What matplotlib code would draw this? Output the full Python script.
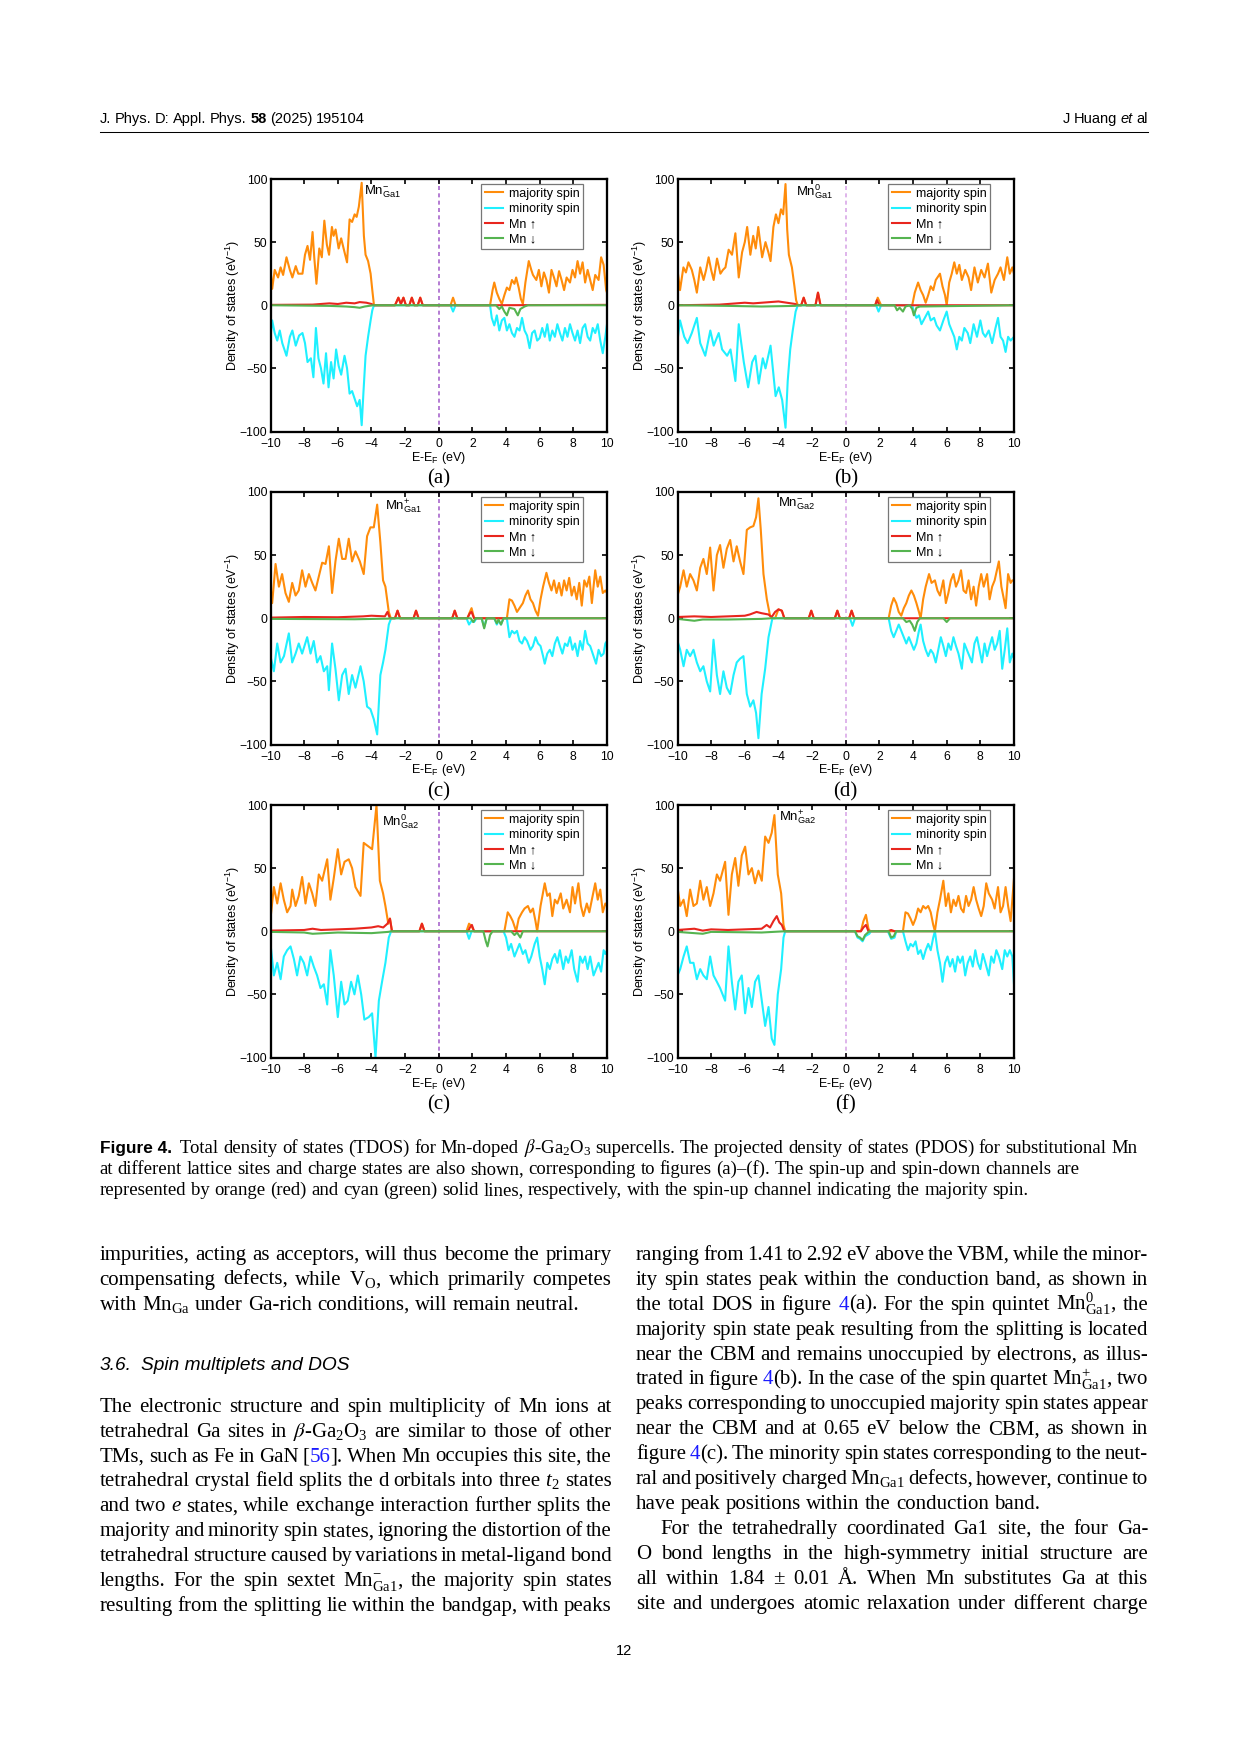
import matplotlib
matplotlib.use('Agg')
import matplotlib.pyplot as plt

plt.rcParams['font.family'] = ['Liberation Sans', 'DejaVu Sans']
plt.rcParams['mathtext.fontset'] = 'stix'
plt.rcParams['axes.unicode_minus'] = True

W, H, DPI = 1241, 1754, 150

# ---- DOS data (energy in eV, DOS in 1/eV) ----
a_majority = [(-10.0, 28), (-9.9, 13), (-9.75, 28), (-9.55, 22), (-9.4, 30), (-9.25, 24), (-9.05, 38), (-8.85, 28),
              (-8.7, 22), (-8.5, 31), (-8.35, 25), (-8.1, 25), (-7.95, 40), (-7.8, 47), (-7.65, 36), (-7.5, 58),
              (-7.4, 38), (-7.27, 17), (-7.1, 45), (-6.95, 38), (-6.8, 67), (-6.65, 48), (-6.52, 40), (-6.35, 62),
              (-6.25, 55), (-6.13, 60), (-5.95, 45), (-5.8, 53), (-5.6, 42), (-5.45, 34), (-5.3, 68), (-5.15, 66),
              (-5.0, 72), (-4.88, 70), (-4.75, 78), (-4.58, 97), (-4.45, 55), (-4.35, 40), (-4.2, 35), (-4.05, 25),
              (-3.95, 12), (-3.85, 0), (-2.6, 0), (-2.4, 6), (-2.25, 1), (-2.1, 6), (-1.95, 0), (-1.75, 0),
              (-1.6, 6), (-1.45, 0), (-1.25, 0), (-1.1, 6), (-0.95, 0), (0.7, 0), (0.85, 6), (1.0, 0),
              (3.05, 0), (3.2, 12), (3.3, 18), (3.45, 10), (3.6, 5), (3.75, 1), (3.9, 8), (4.05, 14), (4.2, 12),
              (4.35, 20), (4.5, 17), (4.6, 22), (4.75, 14), (4.88, 5), (5.0, 1), (5.15, 18), (5.35, 35), (5.5, 28),
              (5.6, 24), (5.8, 20), (5.95, 28), (6.1, 15), (6.25, 26), (6.4, 20), (6.55, 10), (6.7, 28), (6.85, 22),
              (7.0, 15), (7.15, 27), (7.3, 20), (7.45, 12), (7.6, 22), (7.8, 18), (7.95, 28), (8.1, 22), (8.25, 35),
              (8.4, 25), (8.55, 34), (8.7, 18), (8.85, 28), (9.0, 20), (9.15, 12), (9.3, 24), (9.5, 20), (9.65, 38),
              (9.8, 32), (9.95, 12), (10.0, 10)]
a_minority = [(-10.0, -25), (-9.9, -12), (-9.75, -22), (-9.6, -28), (-9.45, -20), (-9.3, -30), (-9.05, -40),
              (-8.85, -25), (-8.7, -20), (-8.5, -32), (-8.3, -24), (-8.1, -22), (-7.95, -30), (-7.8, -45),
              (-7.6, -42), (-7.45, -57), (-7.3, -18), (-7.15, -42), (-7.0, -50), (-6.85, -62), (-6.7, -38),
              (-6.55, -65), (-6.4, -45), (-6.25, -58), (-6.1, -35), (-5.95, -48), (-5.8, -55), (-5.6, -40),
              (-5.45, -50), (-5.3, -70), (-5.15, -68), (-5.0, -74), (-4.85, -80), (-4.7, -75), (-4.58, -95),
              (-4.48, -70), (-4.35, -40), (-4.2, -25), (-4.05, -12), (-3.95, -4), (-3.85, 0), (0.7, 0), (0.85, -5),
              (1.0, 0), (3.05, 0), (3.15, -10), (3.3, -16), (3.45, -8), (3.6, -20), (3.75, -12), (3.9, -10),
              (4.05, -20), (4.2, -15), (4.35, -22), (4.5, -25), (4.65, -18), (4.8, -20), (4.95, -10), (5.1, -20),
              (5.25, -24), (5.4, -34), (5.55, -22), (5.7, -20), (5.85, -28), (6.0, -26), (6.15, -18), (6.3, -25),
              (6.45, -15), (6.6, -28), (6.75, -20), (6.9, -25), (7.05, -15), (7.2, -22), (7.35, -28), (7.5, -18),
              (7.65, -25), (7.8, -15), (7.95, -22), (8.1, -28), (8.25, -20), (8.4, -30), (8.55, -18), (8.7, -15),
              (8.85, -25), (9.0, -28), (9.15, -18), (9.3, -22), (9.45, -15), (9.6, -28), (9.75, -38), (9.9, -25),
              (10.0, -15)]
a_mn_up = [(-10.0, 0.3), (-7.5, 0.5), (-7.0, 1), (-6.5, 1.5), (-6.0, 1), (-5.5, 2), (-5.0, 1.5), (-4.7, 2.5),
           (-4.3, 2), (-4.0, 1), (-3.85, 0), (-2.6, 0), (-2.4, 6), (-2.25, 1), (-2.1, 6), (-1.95, 0), (-1.75, 0),
           (-1.6, 6), (-1.45, 0), (-1.25, 0), (-1.1, 6), (-0.95, 0), (3.0, 0), (10.0, 0.3)]
a_mn_dn = [(-10.0, 0), (-6.5, -0.5), (-5.5, -1), (-5.0, -1.5), (-4.7, -2), (-4.4, -1), (-3.9, 0), (3.4, 0),
           (3.6, -3), (3.75, -1), (3.9, -5), (4.05, -8), (4.2, -2), (4.5, -3), (4.7, -8), (4.85, -3), (5.1, -1),
           (5.3, 0), (10.0, 0)]

b_majority = [(-10.0, 28), (-9.85, 12), (-9.65, 30), (-9.5, 26), (-9.35, 34), (-9.15, 28), (-9.0, 20), (-8.85, 10),
              (-8.65, 30), (-8.45, 20), (-8.3, 28), (-8.15, 38), (-8.0, 28), (-7.85, 20), (-7.65, 37), (-7.45, 25),
              (-7.3, 28), (-7.15, 30), (-6.96, 44), (-6.76, 40), (-6.56, 57), (-6.36, 22), (-6.16, 42), (-6.0, 50),
              (-5.86, 62), (-5.67, 40), (-5.5, 55), (-5.35, 45), (-5.2, 62), (-4.97, 38), (-4.77, 50), (-4.6, 42),
              (-4.47, 35), (-4.3, 62), (-4.15, 72), (-4.0, 65), (-3.85, 76), (-3.72, 72), (-3.58, 96), (-3.48, 60),
              (-3.38, 40), (-3.2, 30), (-3.05, 15), (-2.95, 4), (-2.85, 0), (-2.65, 0), (-2.5, 6), (-2.35, 0),
              (-1.8, 0), (-1.65, 10), (-1.5, 0), (1.75, 0), (1.9, 6), (2.1, 0), (3.95, 0), (4.1, 10), (4.3, 18),
              (4.45, 12), (4.6, 8), (4.75, 2), (4.9, 8), (5.05, 15), (5.2, 12), (5.35, 20), (5.6, 25), (5.75, 15),
              (5.9, 8), (6.0, 0), (6.15, 18), (6.3, 25), (6.45, 34), (6.6, 25), (6.75, 32), (6.9, 20), (7.1, 28),
              (7.3, 22), (7.45, 12), (7.65, 30), (7.85, 18), (8.05, 28), (8.25, 22), (8.45, 33), (8.65, 10),
              (8.85, 20), (9.05, 25), (9.2, 30), (9.4, 20), (9.6, 38), (9.75, 25), (9.9, 30), (10.0, 25)]
b_minority = [(-10.0, -28), (-9.85, -12), (-9.6, -25), (-9.4, -30), (-9.15, -22), (-8.85, -10), (-8.65, -30),
              (-8.35, -40), (-8.05, -20), (-7.85, -32), (-7.55, -22), (-7.35, -35), (-7.05, -40), (-6.85, -35),
              (-6.56, -60), (-6.36, -15), (-6.06, -45), (-5.8, -65), (-5.56, -45), (-5.37, -40), (-5.17, -62),
              (-4.93, -42), (-4.77, -50), (-4.47, -32), (-4.17, -72), (-3.98, -65), (-3.78, -75), (-3.58, -97),
              (-3.45, -60), (-3.3, -35), (-3.15, -20), (-2.98, -5), (-2.85, 0), (1.8, 0), (1.95, -5), (2.1, 0),
              (3.95, 0), (4.05, -5), (4.2, -10), (4.35, -8), (4.5, -15), (4.7, -10), (4.9, -5), (5.05, -12),
              (5.25, -10), (5.4, -16), (5.6, -20), (5.8, -12), (6.0, -5), (6.15, -15), (6.3, -20), (6.45, -25),
              (6.6, -35), (6.75, -25), (6.9, -28), (7.05, -18), (7.25, -22), (7.4, -30), (7.6, -15), (7.8, -25),
              (8.0, -12), (8.15, -22), (8.3, -25), (8.5, -20), (8.7, -30), (8.9, -18), (9.05, -10), (9.2, -25),
              (9.35, -28), (9.5, -37), (9.65, -25), (9.8, -28), (10.0, -25)]
b_mn_up = [(-10.0, 0), (-7.5, 0.5), (-7.0, 1), (-6.5, 1.5), (-6.0, 2), (-5.5, 1.5), (-5.0, 2), (-4.5, 2.5),
           (-4.0, 3), (-3.5, 2), (-3.0, 1), (-2.85, 0), (-2.65, 0), (-2.5, 6), (-2.35, 0), (-1.8, 0), (-1.65, 10),
           (-1.5, 0), (1.75, 0), (1.85, 4), (2.0, 0), (10.0, 0)]
b_mn_dn = [(-10.0, 0), (-7.0, -0.5), (-5.0, -1), (-3.0, -0.5), (-2.85, 0), (2.9, 0), (3.05, -4), (3.2, -2),
           (3.4, -5), (3.55, -1), (3.8, 0), (3.95, -3), (4.05, -8), (4.2, -2), (4.4, -1), (10.0, 0)]

c_majority = [(-10.0, 25), (-9.9, 12), (-9.7, 43), (-9.5, 25), (-9.31, 35), (-9.11, 20), (-8.91, 13), (-8.71, 28),
              (-8.51, 18), (-8.32, 22), (-8.12, 38), (-7.92, 25), (-7.72, 35), (-7.52, 28), (-7.33, 22), (-7.13, 33),
              (-6.93, 44), (-6.73, 43), (-6.53, 57), (-6.34, 20), (-6.14, 45), (-5.94, 63), (-5.74, 47), (-5.54, 47),
              (-5.35, 63), (-5.15, 45), (-4.95, 53), (-4.69, 45), (-4.46, 35), (-4.26, 65), (-4.06, 72), (-3.86, 72),
              (-3.66, 90), (-3.47, 60), (-3.31, 30), (-3.17, 25), (-2.97, 5), (-2.85, 0), (-2.6, 0), (-2.45, 6),
              (-2.3, 0), (-1.5, 0), (-1.35, 6), (-1.2, 0), (0.8, 0), (0.95, 6), (1.1, 0), (1.7, 0), (1.85, 5),
              (1.95, 8), (2.1, 0), (4.05, 0), (4.2, 15), (4.35, 14), (4.5, 10), (4.65, 5), (4.8, 8), (5.0, 12),
              (5.15, 18), (5.3, 22), (5.45, 15), (5.6, 12), (5.75, 6), (5.9, 2), (6.05, 15), (6.2, 25), (6.4, 36),
              (6.55, 28), (6.7, 22), (6.85, 30), (7.0, 20), (7.15, 28), (7.3, 18), (7.45, 30), (7.6, 22), (7.75, 32),
              (7.9, 18), (8.05, 25), (8.2, 15), (8.35, 28), (8.5, 10), (8.65, 30), (8.8, 25), (8.95, 33), (9.1, 12),
              (9.3, 38), (9.45, 25), (9.6, 33), (9.75, 20), (9.9, 22), (10.0, 20)]
c_minority = [(-10.0, -30), (-9.8, -42), (-9.6, -20), (-9.4, -35), (-9.2, -30), (-8.91, -12), (-8.71, -35),
              (-8.51, -28), (-8.32, -20), (-8.12, -28), (-7.82, -15), (-7.62, -28), (-7.43, -18), (-7.23, -35),
              (-7.03, -30), (-6.83, -42), (-6.63, -38), (-6.53, -57), (-6.34, -20), (-6.14, -40), (-5.94, -65),
              (-5.74, -45), (-5.54, -40), (-5.35, -60), (-5.15, -45), (-4.95, -55), (-4.65, -38), (-4.46, -50),
              (-4.26, -70), (-4.06, -72), (-3.86, -80), (-3.66, -92), (-3.47, -45), (-3.31, -35), (-3.17, -25),
              (-2.97, -5), (-2.83, 0), (1.65, 0), (1.8, -5), (1.95, -2), (2.1, -3), (2.25, 0), (2.55, 0), (2.7, -7),
              (2.85, 0), (3.3, 0), (3.45, -5), (3.55, -2), (3.7, -5), (3.85, 0), (4.05, 0), (4.2, -15), (4.35, -10),
              (4.5, -12), (4.65, -10), (4.8, -18), (4.95, -20), (5.1, -15), (5.25, -18), (5.45, -25), (5.6, -22),
              (5.75, -15), (5.9, -20), (6.05, -22), (6.2, -30), (6.3, -36), (6.45, -28), (6.6, -25), (6.75, -30),
              (6.9, -20), (7.05, -15), (7.2, -22), (7.35, -28), (7.5, -20), (7.65, -22), (7.8, -15), (7.95, -25),
              (8.1, -20), (8.25, -30), (8.4, -18), (8.55, -25), (8.7, -10), (8.85, -20), (9.0, -22), (9.15, -28),
              (9.35, -36), (9.5, -25), (9.65, -30), (9.8, -28), (9.9, -20), (10.0, -18)]
c_mn_up = [(-10.0, 0.5), (-8.0, 1), (-6.0, 0.8), (-4.5, 1.5), (-4.0, 2), (-3.2, 1.5), (-3.05, 5), (-2.9, 0),
           (-2.6, 0), (-2.45, 6), (-2.3, 0), (-1.5, 0), (-1.35, 6), (-1.2, 0), (0.8, 0), (0.95, 6), (1.1, 0),
           (1.7, 0), (1.85, 4), (1.95, 5), (2.1, 0), (10.0, 0)]
c_mn_dn = [(-10.0, -0.5), (-5.0, -0.8), (-3.0, -0.3), (-2.85, 0), (1.9, 0), (2.05, -3), (2.2, 0), (2.55, 0),
           (2.7, -8), (2.85, 0), (3.3, 0), (3.45, -4), (3.55, -1), (3.7, -5), (3.85, 0), (10.0, 0)]

d_majority = [(-10.0, 18), (-9.84, 25), (-9.64, 38), (-9.45, 25), (-9.25, 35), (-9.05, 30), (-8.85, 22), (-8.65, 40),
              (-8.46, 47), (-8.26, 35), (-8.06, 56), (-7.86, 22), (-7.66, 50), (-7.47, 58), (-7.27, 40), (-7.07, 55),
              (-6.87, 62), (-6.67, 45), (-6.48, 57), (-6.28, 45), (-6.08, 35), (-5.88, 70), (-5.68, 72), (-5.49, 73),
              (-5.33, 80), (-5.19, 95), (-5.05, 70), (-4.89, 35), (-4.69, 15), (-4.5, 2), (-4.36, 0), (-4.2, 0),
              (-4.0, 7), (-3.8, 6), (-3.65, 0), (-2.2, 0), (-2.05, 6), (-1.9, 0), (-0.65, 0), (-0.5, 6), (-0.35, 0),
              (0.2, 0), (0.35, 6), (0.5, 0), (2.55, 0), (2.7, 10), (2.85, 16), (3.0, 12), (3.15, 5), (3.3, 2),
              (3.45, 8), (3.6, 12), (3.75, 18), (3.9, 22), (4.05, 18), (4.2, 12), (4.35, 5), (4.45, 0), (4.6, 15),
              (4.75, 25), (4.95, 35), (5.1, 28), (5.3, 30), (5.45, 22), (5.6, 18), (5.8, 30), (5.95, 12), (6.1, 20),
              (6.25, 30), (6.4, 35), (6.55, 25), (6.7, 30), (6.85, 38), (7.0, 22), (7.15, 20), (7.3, 30), (7.45, 15),
              (7.6, 25), (7.75, 10), (7.9, 25), (8.05, 35), (8.2, 25), (8.4, 35), (8.55, 15), (8.7, 25), (8.85, 30),
              (9.1, 45), (9.25, 25), (9.4, 15), (9.5, 8), (9.65, 35), (9.8, 28), (9.9, 30), (10.0, 30)]
d_minority = [(-10.0, -18), (-9.84, -25), (-9.64, -38), (-9.45, -25), (-9.25, -30), (-9.05, -25), (-8.85, -35),
              (-8.65, -42), (-8.46, -38), (-8.26, -50), (-8.06, -58), (-7.86, -17), (-7.66, -45), (-7.47, -60),
              (-7.27, -42), (-7.07, -55), (-6.87, -60), (-6.67, -45), (-6.48, -35), (-6.28, -32), (-6.08, -30),
              (-5.88, -60), (-5.68, -70), (-5.49, -65), (-5.33, -75), (-5.19, -95), (-5.0, -60), (-4.79, -40),
              (-4.59, -15), (-4.36, 0), (0.25, 0), (0.4, -6), (0.55, 0), (2.55, 0), (2.7, -10), (2.85, -15),
              (3.0, -10), (3.15, -5), (3.3, -10), (3.45, -15), (3.6, -20), (3.75, -15), (3.9, -20), (4.05, -25),
              (4.2, -20), (4.35, -10), (4.45, -5), (4.6, -18), (4.75, -25), (4.9, -30), (5.05, -25), (5.2, -28),
              (5.35, -35), (5.5, -25), (5.65, -15), (5.8, -22), (5.95, -30), (6.1, -20), (6.25, -25), (6.4, -15),
              (6.55, -22), (6.7, -28), (6.9, -40), (7.05, -20), (7.2, -25), (7.35, -30), (7.5, -35), (7.65, -20),
              (7.8, -15), (7.95, -25), (8.1, -35), (8.25, -20), (8.4, -30), (8.55, -22), (8.7, -15), (8.85, -25),
              (9.0, -20), (9.15, -10), (9.3, -40), (9.45, -25), (9.6, -8), (9.75, -35), (9.9, -28), (10.0, -32)]
d_mn_up = [(-10.0, 1), (-9.0, 1.5), (-8.0, 1), (-7.0, 1.5), (-6.0, 2), (-5.7, 3), (-5.3, 5), (-5.0, 4), (-4.6, 3),
           (-4.4, 1), (-4.2, 5), (-4.0, 7), (-3.8, 6), (-3.65, 0), (-2.2, 0), (-2.05, 6), (-1.9, 0), (-0.65, 0),
           (-0.5, 6), (-0.35, 0), (0.2, 0), (0.35, 6), (0.5, 0), (10.0, 0)]
d_mn_dn = [(-10.0, -0.5), (-9.0, -2), (-8.5, -1), (-7.0, -1), (-5.0, -0.5), (-4.4, 0), (3.4, 0), (3.6, -3),
           (3.8, -2), (3.95, -5), (4.1, -10), (4.25, -3), (4.4, 0), (5.8, 0), (6.0, -3), (6.2, 0), (10.0, 0)]

e_majority = [(-10.0, 10), (-9.8, 35), (-9.6, 22), (-9.4, 38), (-9.21, 25), (-9.01, 15), (-8.81, 20), (-8.71, 33),
              (-8.51, 20), (-8.32, 28), (-8.12, 43), (-7.92, 22), (-7.72, 38), (-7.52, 30), (-7.33, 20), (-7.13, 45),
              (-6.93, 40), (-6.63, 57), (-6.44, 25), (-6.24, 42), (-6.0, 65), (-5.8, 45), (-5.6, 55), (-5.35, 57),
              (-5.15, 50), (-4.95, 35), (-4.65, 28), (-4.46, 70), (-4.26, 68), (-3.96, 65), (-3.7, 100), (-3.5, 40),
              (-3.31, 30), (-3.17, 20), (-3.0, 6), (-2.9, 10), (-2.78, 0), (-1.15, 0), (-1.0, 6), (-0.85, 0),
              (1.65, 0), (1.8, 6), (1.95, 4), (2.1, 0), (3.9, 0), (4.1, 15), (4.25, 12), (4.4, 8), (4.6, 0),
              (4.75, 10), (4.95, 15), (5.1, 18), (5.3, 20), (5.45, 15), (5.6, 18), (5.75, 8), (5.85, 0), (6.05, 20),
              (6.3, 38), (6.45, 28), (6.6, 30), (6.75, 12), (6.9, 25), (7.05, 22), (7.25, 30), (7.4, 18), (7.6, 25),
              (7.8, 15), (7.95, 35), (8.1, 22), (8.3, 38), (8.45, 20), (8.6, 12), (8.8, 22), (8.95, 15), (9.1, 25),
              (9.3, 38), (9.45, 25), (9.6, 33), (9.75, 15), (9.9, 22), (10.0, 20)]
e_minority = [(-10.0, -10), (-9.8, -35), (-9.6, -25), (-9.4, -38), (-9.21, -20), (-9.01, -15), (-8.81, -12),
              (-8.61, -22), (-8.42, -35), (-8.22, -20), (-8.02, -25), (-7.82, -35), (-7.62, -20), (-7.43, -28),
              (-7.23, -35), (-7.03, -45), (-6.83, -42), (-6.63, -58), (-6.44, -15), (-6.24, -35), (-6.0, -68),
              (-5.8, -40), (-5.6, -58), (-5.41, -55), (-5.21, -40), (-5.01, -50), (-4.81, -35), (-4.61, -50),
              (-4.42, -70), (-4.16, -68), (-3.96, -65), (-3.76, -100), (-3.56, -55), (-3.37, -40), (-3.17, -25),
              (-2.97, -5), (-2.83, 0), (1.65, 0), (1.8, -6), (1.95, 0), (3.85, 0), (4.0, -5), (4.15, -15),
              (4.3, -10), (4.5, -20), (4.65, -15), (4.8, -10), (5.0, -18), (5.15, -15), (5.35, -25), (5.5, -20),
              (5.7, -10), (5.85, -5), (6.0, -20), (6.15, -30), (6.3, -42), (6.45, -25), (6.6, -30), (6.75, -22),
              (6.9, -18), (7.05, -25), (7.2, -15), (7.4, -30), (7.55, -20), (7.7, -25), (7.9, -15), (8.05, -30),
              (8.25, -40), (8.4, -20), (8.55, -25), (8.7, -20), (8.85, -30), (9.0, -20), (9.2, -35), (9.35, -30),
              (9.5, -25), (9.65, -32), (9.8, -15), (9.9, -18), (10.0, -15)]
e_mn_up = [(-10.0, 0.5), (-8.0, 1), (-7.5, 2), (-7.0, 1), (-6.0, 1.5), (-5.0, 2), (-4.5, 2.5), (-4.0, 3),
           (-3.6, 4), (-3.3, 3), (-3.05, 6), (-2.9, 10), (-2.78, 0), (-1.15, 0), (-1.0, 6), (-0.85, 0), (1.75, 0),
           (1.85, 3), (1.97, 5), (2.1, 0), (10.0, 0)]
e_mn_dn = [(-10.0, -0.5), (-8.0, -1), (-7.5, -2), (-6.0, -1), (-4.0, -1.5), (-3.0, -0.5), (-2.8, 0), (2.65, 0),
           (2.8, -8), (2.9, -12), (3.05, -3), (3.2, 0), (4.3, 0), (4.5, -3), (4.65, -1), (4.85, -5), (5.0, 0),
           (10.0, 0)]

f_majority = [(-10.0, 35), (-9.84, 20), (-9.64, 25), (-9.45, 12), (-9.25, 33), (-9.05, 20), (-8.85, 22), (-8.65, 40),
              (-8.46, 25), (-8.26, 35), (-8.06, 20), (-7.86, 30), (-7.66, 45), (-7.47, 40), (-7.17, 55), (-6.97, 13),
              (-6.77, 45), (-6.57, 58), (-6.38, 36), (-6.18, 60), (-5.98, 67), (-5.78, 45), (-5.58, 50), (-5.39, 38),
              (-5.19, 48), (-4.99, 40), (-4.79, 75), (-4.59, 70), (-4.4, 78), (-4.24, 92), (-4.04, 45), (-3.84, 30),
              (-3.7, 5), (-3.6, 0), (0.9, 0), (1.05, 8), (1.2, 13), (1.35, 2), (1.45, 0), (3.4, 0), (3.55, 15),
              (3.7, 14), (3.85, 10), (4.0, 5), (4.15, 10), (4.3, 18), (4.45, 15), (4.6, 20), (4.75, 18), (4.9, 20),
              (5.05, 15), (5.2, 5), (5.3, 0), (5.45, 15), (5.6, 25), (5.8, 40), (5.95, 20), (6.1, 30), (6.25, 15),
              (6.4, 25), (6.55, 20), (6.7, 28), (6.85, 18), (7.0, 15), (7.15, 28), (7.3, 20), (7.45, 25), (7.6, 35),
              (7.75, 25), (7.9, 18), (8.05, 12), (8.2, 20), (8.35, 38), (8.5, 30), (8.7, 25), (8.85, 18), (9.05, 35),
              (9.2, 15), (9.35, 20), (9.5, 35), (9.65, 20), (9.8, 8), (9.9, 25), (10.0, 42)]
f_minority = [(-10.0, -35), (-9.84, -30), (-9.64, -20), (-9.45, -12), (-9.25, -25), (-9.05, -25), (-8.85, -38),
              (-8.65, -30), (-8.46, -35), (-8.26, -38), (-8.06, -20), (-7.86, -35), (-7.66, -40), (-7.47, -45),
              (-7.17, -55), (-6.97, -12), (-6.77, -40), (-6.57, -62), (-6.38, -40), (-6.18, -35), (-5.98, -65),
              (-5.78, -45), (-5.58, -60), (-5.39, -40), (-5.19, -35), (-4.99, -55), (-4.79, -75), (-4.59, -60),
              (-4.4, -85), (-4.24, -90), (-4.04, -50), (-3.84, -30), (-3.7, -5), (-3.6, 0), (0.55, 0), (0.7, -5),
              (0.85, -6), (1.0, -8), (1.15, -4), (1.4, -2), (1.5, 0), (2.5, 0), (2.7, -6), (2.9, -5), (3.0, 0),
              (3.4, 0), (3.55, -8), (3.7, -15), (3.85, -10), (4.0, -12), (4.15, -8), (4.3, -18), (4.45, -15),
              (4.6, -22), (4.75, -15), (4.9, -10), (5.05, -15), (5.2, -5), (5.3, 0), (5.45, -15), (5.6, -25),
              (5.75, -40), (5.9, -25), (6.05, -20), (6.2, -28), (6.35, -22), (6.5, -32), (6.65, -20), (6.8, -25),
              (6.95, -20), (7.1, -35), (7.25, -25), (7.4, -20), (7.55, -28), (7.7, -15), (7.85, -25), (8.0, -30),
              (8.15, -18), (8.3, -25), (8.5, -35), (8.65, -20), (8.8, -25), (8.95, -15), (9.1, -20), (9.3, -30),
              (9.45, -15), (9.6, -20), (9.75, -15), (9.9, -20), (10.0, -42)]
f_mn_up = [(-10.0, 1), (-9.0, 2), (-8.5, 0.5), (-8.0, 1.5), (-7.0, 1), (-6.0, 1.5), (-5.0, 2), (-4.7, 5),
           (-4.5, 3), (-4.3, 8), (-4.1, 12), (-3.95, 7), (-3.8, 5), (-3.65, 0), (0.9, 0), (1.05, 3), (1.2, 5),
           (1.35, 0), (2.5, 0), (2.7, 1), (2.9, 0), (10.0, 0)]
f_mn_dn = [(-10.0, -0.5), (-8.5, -2), (-8.0, -0.5), (-5.0, -1), (-3.6, 0), (0.55, 0), (0.7, -4), (0.85, -5),
           (1.0, -7), (1.15, -3), (1.4, 0), (2.55, 0), (2.7, -5), (2.85, -4), (3.0, 0), (10.0, 0)]

panel_tags = ['(a)', '(b)', '(c)', '(d)', '(c)', '(f)']
defect_labels = [r'Mn$\mathregular{^{-}_{Ga1}}$', r'Mn$\mathregular{^{0}_{Ga1}}$', r'Mn$\mathregular{^{+}_{Ga1}}$',
                 r'Mn$\mathregular{^{-}_{Ga2}}$', r'Mn$\mathregular{^{0}_{Ga2}}$', r'Mn$\mathregular{^{+}_{Ga2}}$']
series_names = ['majority spin', 'minority spin', 'Mn \u2191', 'Mn \u2193']

# ---- page text ----
header_left = 'J. Phys. D: Appl. Phys. *58* (2025) 195104'
header_right = 'J Huang ~et al~'
caption_lines = [
    '#Figure\u00a04.# \u2009Total density of states (TDOS) for Mn-doped $\\beta$-Ga$\\mathregular{_2}$O$\\mathregular{_3}$ supercells. The projected density of states (PDOS) for substitutional Mn',
    'at different lattice sites and charge states are also shown, corresponding to figures (a)\u2013(f). The spin-up and spin-down channels are',
    'represented by orange (red) and cyan (green) solid lines, respectively, with the spin-up channel indicating the majority spin.',
]
left_par1 = [
    'impurities, acting as acceptors, will thus become the primary',
    'compensating defects, while V$\\mathregular{_O}$, which primarily competes',
    'with Mn$\\mathregular{_{Ga}}$ under Ga-rich conditions, will remain neutral.',
]
section_title = ('3.6.', 'Spin multiplets and DOS')
left_par2 = [
    'The electronic structure and spin multiplicity of Mn ions at',
    'tetrahedral Ga sites in $\\beta$-Ga$\\mathregular{_2}$O$\\mathregular{_3}$ are similar to those of other',
    'TMs, such as Fe in GaN [@56@]. When Mn occupies this site, the',
    'tetrahedral crystal field splits the d orbitals into three ~t~$\\mathregular{_2}$ states',
    'and two ~e~ states, while exchange interaction further splits the',
    'majority and minority spin states, ignoring the distortion of the',
    'tetrahedral structure caused by variations in metal-ligand bond',
    'lengths. For the spin sextet Mn$\\mathregular{^{-}_{Ga1}}$, the majority spin states',
    'resulting from the splitting lie within the bandgap, with peaks',
]
right_col = [
    'ranging from 1.41 to 2.92 eV above the VBM, while the minor-',
    'ity spin states peak within the conduction band, as shown in',
    'the total DOS in figure @4@(a). For the spin quintet Mn$\\mathregular{^{0}_{Ga1}}$, the',
    'majority spin state peak resulting from the splitting is located',
    'near the CBM and remains unoccupied by electrons, as illus-',
    'trated in figure @4@(b). In the case of the spin quartet Mn$\\mathregular{^{+}_{Ga1}}$, two',
    'peaks corresponding to unoccupied majority spin states appear',
    'near the CBM and at 0.65 eV below the CBM, as shown in',
    'figure @4@(c). The minority spin states corresponding to the neut-',
    'ral and positively charged Mn$\\mathregular{_{Ga1}}$ defects, however, continue to',
    'have peak positions within the conduction band.',
    'For the tetrahedrally coordinated Ga1 site, the four Ga-',
    'O bond lengths in the high-symmetry initial structure are',
    'all within 1.84 \u00b1 0.01 \u00c5. When Mn substitutes Ga at this',
    'site and undergoes atomic relaxation under different charge',
]

ORANGE, CYAN, RED, GREEN = '#ff8c0a', '#1ff0ff', '#e8261e', '#55b450'
BLUE = '#1a1aff'

fig = plt.figure(figsize=(W / DPI, H / DPI), dpi=DPI)
fig.patch.set_facecolor('white')
R = fig.canvas.get_renderer()


def fx(x):
    return x / W


def fy(y):
    return 1 - y / H


# ---- DOS panels ----
col_x = [(270.5, 607.0), (677.5, 1014.0)]
row_y = [(179.0, 431.5), (492.0, 744.5), (805.0, 1057.5)]
label_xy = [(-4.45, 90), (-2.95, 90), (-3.2, 88), (-4.0, 91), (-3.4, 87), (-3.97, 90)]
fermi_col = ['#a866cc', '#d9a8e8']

all_panels = [
    (a_majority, a_minority, a_mn_up, a_mn_dn),
    (b_majority, b_minority, b_mn_up, b_mn_dn),
    (c_majority, c_minority, c_mn_up, c_mn_dn),
    (d_majority, d_minority, d_mn_up, d_mn_dn),
    (e_majority, e_minority, e_mn_up, e_mn_dn),
    (f_majority, f_minority, f_mn_up, f_mn_dn),
]

for i, curves in enumerate(all_panels):
    r, c = divmod(i, 2)
    l, rr = col_x[c]
    t, b = row_y[r]
    ax = fig.add_axes([fx(l), fy(b), (rr - l) / W, (b - t) / H])
    ax.axvline(0, color=fermi_col[c], lw=0.8, ls=(0, (2.4, 2.0)), zorder=1)
    for data, colr, name in zip(curves, [ORANGE, CYAN, RED, GREEN], series_names):
        e, d = zip(*data)
        ax.plot(e, d, color=colr, lw=1.0, label=name, zorder=2)
    ax.set_xlim(-10, 10)
    ax.set_ylim(-100, 100)
    ax.set_xticks(range(-10, 11, 2))
    ax.set_yticks([-100, -50, 0, 50, 100])
    ax.tick_params(direction='in', length=2.6, width=0.8, top=True, right=True, labelsize=5.8)
    ax.tick_params(axis='x', pad=3.0)
    ax.tick_params(axis='y', pad=1.6)
    for s in ax.spines.values():
        s.set_linewidth(1.1)
    ax.set_ylabel('Density of states (eV$\\mathregular{^{-1}}$)', fontsize=6)
    ax.yaxis.set_label_coords(-37.5 / (rr - l), 0.5)
    ax.yaxis.label.set_va('center')
    ax.set_xlabel('E-E$\\mathregular{_F}$ (eV)', fontsize=6)
    ax.xaxis.set_label_coords(0.5, -26.0 / (b - t))
    ax.xaxis.label.set_va('center')
    lx, ly = label_xy[i]
    ax.text(lx, ly, defect_labels[i], fontsize=6.3, ha='left', va='center')
    leg = ax.legend(loc='upper right', bbox_to_anchor=(0.93, 0.98), fontsize=6, frameon=True, fancybox=False,
                    edgecolor='#777777', framealpha=1, borderpad=0.3, labelspacing=0.25, handlelength=1.45,
                    handletextpad=0.45, borderaxespad=0)
    leg.get_frame().set_linewidth(0.6)
    for ln in leg.get_lines():
        ln.set_linewidth(1.0)
    fig.text(fx((l + rr) / 2), fy(b + 52), panel_tags[i], fontsize=10, family='Liberation Serif',
             ha='center', va='baseline')


# ---- text helpers ----
def split_segments(word):
    out, cur = [], ''
    st = {'blue': False, 'ital': False, 'bold': False, 'sans': False}
    keys = {'@': 'blue', '~': 'ital', '*': 'bold', '#': 'sans'}
    for ch in word:
        if ch in keys:
            if cur:
                out.append((cur, dict(st)))
            cur = ''
            st[keys[ch]] = not st[keys[ch]]
        else:
            cur += ch
    if cur:
        out.append((cur, dict(st)))
    return out


def put_line(line, x0, yb, size, family, x1=None, right=False):
    items = []
    for w in line.split(' '):
        parts = []
        for s, st in split_segments(w):
            fam = 'Liberation Sans' if st['sans'] else family
            sz = size * 0.92 if st['sans'] else size
            txt = fig.text(0, 0, s, fontsize=sz, family=[fam, 'DejaVu Sans'],
                           style='italic' if st['ital'] else 'normal',
                           weight='bold' if (st['bold'] or st['sans']) else 'normal',
                           color=BLUE if st['blue'] else 'black', ha='left', va='baseline')
            parts.append((txt, txt.get_window_extent(renderer=R).width))
        items.append(parts)
    widths = [sum(p[1] for p in parts) for parts in items]
    sp = 0.25 * size * DPI / 72
    if x1 is not None and len(items) > 1 and not right:
        sp = (x1 - x0 - sum(widths)) / (len(items) - 1)
    if right:
        x0 = x1 - sum(widths) - sp * (len(items) - 1)
    x = x0
    for parts, wd in zip(items, widths):
        xx = x
        for txt, w in parts:
            txt.set_position((fx(xx), fy(yb)))
            xx += w
        x += wd + sp


# header
put_line(header_left, 99.5, 123, 7, 'Liberation Sans')
put_line(header_right, 99.5, 123, 7, 'Liberation Sans', x1=1148, right=True)
fig.add_artist(plt.Line2D([fx(99.5), fx(1148)], [fy(132), fy(132)], color='black', lw=0.5))

# caption (ragged right)
for k, ln in enumerate(caption_lines):
    put_line(ln, 99.5, 1153 + 21 * k, 9, 'Liberation Serif')

# body, left column
LX0, LX1, RX0, RX1 = 99.5, 611.5, 636.0, 1148.0
LS = 24.9
for k, ln in enumerate(left_par1):
    last = k == len(left_par1) - 1
    put_line(ln, LX0, 1260 + LS * k, 10, 'Liberation Serif', x1=None if last else LX1)
fig.text(fx(LX0), fy(1370), section_title[0], fontsize=9.2, family='Liberation Sans', style='italic',
         ha='left', va='baseline')
fig.text(fx(141), fy(1370), section_title[1], fontsize=9.2, family='Liberation Sans', style='italic',
         ha='left', va='baseline')
for k, ln in enumerate(left_par2):
    put_line(ln, LX0, 1411.7 + LS * k, 10, 'Liberation Serif', x1=LX1)

# body, right column
for k, ln in enumerate(right_col):
    x0 = RX0 + 24.5 if k == 11 else RX0
    put_line(ln, x0, 1260 + LS * k, 10, 'Liberation Serif', x1=None if k == 10 else RX1)

# page number
fig.text(fx(624), fy(1655), '12', fontsize=7, family='Liberation Sans', ha='center', va='baseline')

fig.savefig('out.png', dpi=DPI)
